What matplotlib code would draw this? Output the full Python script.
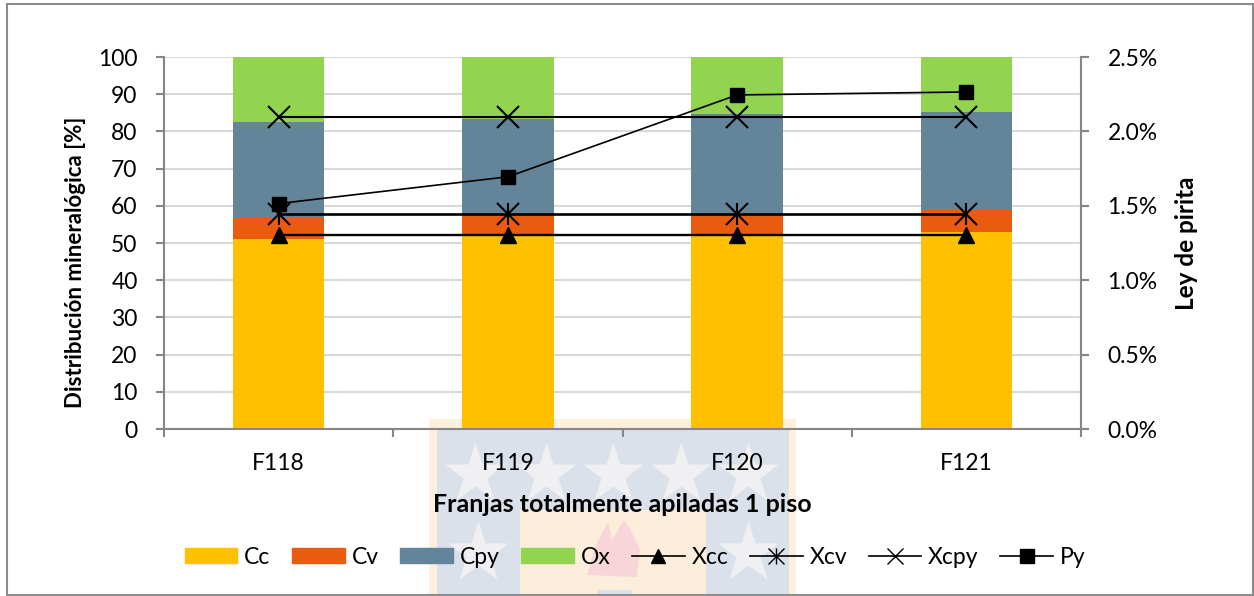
import matplotlib
matplotlib.use("Agg")
import matplotlib.pyplot as plt
from matplotlib.lines import Line2D
from matplotlib.patches import Patch, Polygon, Rectangle
import numpy as np

plt.rcParams['font.family'] = ['Lato', 'DejaVu Sans']

franjas = ['F118', 'F119', 'F120', 'F121']
cc = [51.1, 52.0, 52.2, 53.0]
cv = [5.7, 5.4, 5.6, 6.0]
cpy = [25.8, 25.9, 26.9, 26.3]
ox = [17.4, 16.7, 15.3, 14.7]
xcc = [1.305, 1.305, 1.305, 1.305]
xcv = [1.445, 1.445, 1.445, 1.445]
xcpy = [2.10, 2.10, 2.10, 2.10]
py = [1.515, 1.695, 2.245, 2.265]

W, H = 1254, 596
fig = plt.figure(figsize=(W / 100, H / 100), dpi=100)


def px_rect(x0, y0, x1, y1, **kw):
    fig.add_artist(Rectangle((x0 / W, 1 - y1 / H), (x1 - x0) / W, (y1 - y0) / H,
                             transform=fig.transFigure, **kw))


def px_stars(xs, y):
    fig.add_artist(Line2D([v / W for v in xs], [1 - y / H] * len(xs), transform=fig.transFigure,
                          ls='none', marker='*', ms=46, mfc='#f0f0f2', mec='none', zorder=0))


# marca de agua detras del grafico
px_rect(429, 419, 796, 596, fc='#fdf0dc', ec='none', zorder=0)
px_rect(437, 428, 789, 596, fc='#dae1ea', ec='none', zorder=0)
px_rect(520, 510, 706, 596, fc='#fdeedc', ec='none', zorder=0)
px_rect(597, 590, 632, 594, fc='#dae1ea', ec='none', zorder=0)
px_stars([475, 546, 613, 681, 748], 474)
px_stars([478, 748], 553)
flame = [(587, 575), (596, 545), (608, 522), (612, 540), (624, 520), (630, 528), (640, 550),
         (637, 577)]
fig.add_artist(Polygon([(a / W, 1 - b / H) for a, b in flame], transform=fig.transFigure,
                       fc='#f8d5d8', ec='none', zorder=0))

# marco
px_rect(6.5, 4, 1253, 595, fc='none', ec='#8c8c8c', lw=1.5, zorder=5)

ax = fig.add_axes([164 / W, 1 - 429 / H, (1081 - 164) / W, (429 - 57) / H])
ax.patch.set_alpha(0)
x = np.arange(len(franjas))

bottom = np.zeros(4)
for vals, col in zip([cc, cv, cpy, ox], ['#ffc000', '#e95b0f', '#638499', '#92d450']):
    ax.bar(x, vals, 0.4, bottom=bottom, color=col, zorder=2)
    bottom += np.array(vals)

ax.set_xlim(-0.5, 3.5)
ax.set_ylim(0, 100)
ax.set_yticks(np.arange(0, 101, 10))
ax.set_xticks(np.arange(-0.5, 3.6, 1))
ax.set_xticklabels([])
ax.yaxis.grid(True, color='#d9d9d9', lw=1.5, zorder=1)
ax.set_axisbelow(True)
ax.tick_params(axis='y', labelsize=16.5, length=6, width=1.5, color='#868686', pad=13)
ax.tick_params(axis='x', length=6, width=1.5, color='#868686', direction='out')
for s in ['top', 'right']:
    ax.spines[s].set_visible(False)
for s in ['left', 'bottom']:
    ax.spines[s].set_color('#868686')
    ax.spines[s].set_linewidth(1.5)
ax.set_ylabel('Distribución mineralógica [%]', fontsize=16, fontweight='bold')
ax.yaxis.set_label_coords(-0.085, 0.449)

for xi, lab in zip(x, franjas):
    ax.annotate(lab, (xi, 0), xytext=(0, -35), textcoords='offset pixels', ha='center',
                va='center', fontsize=16.5)
ax.annotate('Franjas totalmente apiladas 1 piso', (1.5, 0), xytext=(0, -75),
            textcoords='offset pixels', ha='center', va='center', fontsize=18, fontweight='bold')

ax2 = ax.twinx()
ax2.patch.set_alpha(0)
ax2.set_ylim(0, 2.5)
ax2.set_yticks(np.arange(0, 2.51, 0.5))
ax2.set_yticklabels(['%.1f%%' % v for v in np.arange(0, 2.51, 0.5)])
ax2.tick_params(axis='y', labelsize=16.5, length=6, width=1.5, color='#868686', pad=13)
for s in ['top', 'left', 'bottom']:
    ax2.spines[s].set_visible(False)
ax2.spines['right'].set_color('#868686')
ax2.spines['right'].set_linewidth(1.5)
ax2.set_ylabel('Ley de pirita', fontsize=17.5, fontweight='bold')
ax2.yaxis.set_label_coords(1.1025, 0.5)

ax2.plot(x, xcc, color='k', lw=1.7, marker='^', ms=11, mfc='k', mec='k', zorder=3)
ax2.plot(x, xcv, color='k', lw=1.9, marker='x', ms=16, mec='k', mew=1.5, zorder=3)
ax2.plot(x, xcv, ls='none', marker='|', ms=16, mec='k', mew=1.5, zorder=3)
ax2.plot(x, xcpy, color='k', lw=1.5, marker='x', ms=16, mec='k', mew=1.5, zorder=3)
ax2.plot(x, py, color='k', lw=1.2, marker='s', ms=10.5, mfc='k', mec='k', zorder=3)

xcv_handle = (Line2D([], [], color='k', lw=1.2, marker='x', ms=11, mec='k'),
              Line2D([], [], ls='none', marker='|', ms=11, mec='k'))
handles = [
    Patch(color='#ffc000', label='Cc'),
    Patch(color='#e95b0f', label='Cv'),
    Patch(color='#638499', label='Cpy'),
    Patch(color='#92d450', label='Ox'),
    Line2D([], [], color='k', lw=1.2, marker='^', ms=10.5, label='Xcc'),
    xcv_handle,
    Line2D([], [], color='k', lw=1.2, marker='x', ms=11, mec='k', label='Xcpy'),
    Line2D([], [], color='k', lw=1.2, marker='s', ms=10, label='Py'),
]
labels = ['Cc', 'Cv', 'Cpy', 'Ox', 'Xcc', 'Xcv', 'Xcpy', 'Py']
fig.legend(handles, labels, ncol=8, loc='center', bbox_to_anchor=(635 / W, 1 - 557 / H),
           frameon=False, fontsize=16.5, handlelength=2.3, handleheight=0.65, handletextpad=0.3,
           columnspacing=0.94, borderpad=0, labelspacing=0)

fig.savefig('out.png', dpi=100)
